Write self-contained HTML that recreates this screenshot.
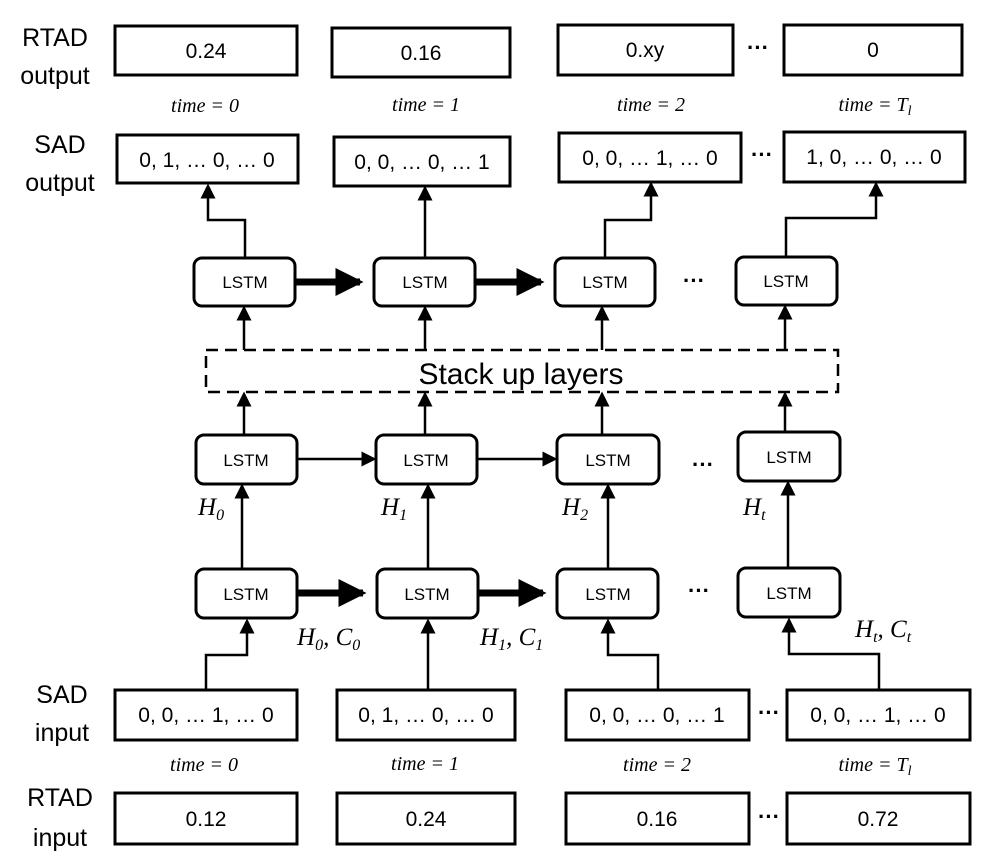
<!DOCTYPE html>
<html><head><meta charset="utf-8"><style>
html,body{margin:0;padding:0;background:#fff;}
svg{display:block;}
.b{fill:none;stroke:#000;stroke-width:3;}
.l{fill:none;stroke:#000;stroke-width:2.5;}
.tk{fill:none;stroke:#000;stroke-width:7;}
.t{font-family:"Liberation Sans",sans-serif;font-size:21px;text-anchor:middle;}
.d{font-family:"Liberation Sans",sans-serif;font-size:22px;font-weight:bold;text-anchor:middle;}
.lab{font-family:"Liberation Sans",sans-serif;font-size:25px;text-anchor:middle;}
.ls{font-family:"Liberation Sans",sans-serif;font-size:17px;text-anchor:middle;}
.tm{font-family:"Liberation Serif",serif;font-style:italic;font-size:20px;text-anchor:middle;}
.m{font-family:"Liberation Serif",serif;font-style:italic;font-size:25px;}
</style></head><body>
<svg width="989" height="866" viewBox="0 0 989 866" xmlns="http://www.w3.org/2000/svg">
<defs>
<marker id="a" markerWidth="6" markerHeight="6" refX="5" refY="3" orient="auto" markerUnits="strokeWidth"><path d="M0,0 L6,3 L0,6 z"/></marker>
<marker id="ak" markerWidth="4" markerHeight="4" refX="3.5" refY="2" orient="auto" markerUnits="strokeWidth"><path d="M0,0 L4,2 L0,4 z"/></marker>
</defs>
<text class="lab" x="55" y="46">RTAD</text><text class="lab" x="55" y="84">output</text>
<text class="lab" x="60" y="153">SAD</text><text class="lab" x="60" y="191">output</text>
<text class="lab" x="62" y="703">SAD</text><text class="lab" x="62" y="741">input</text>
<text class="lab" x="60" y="806">RTAD</text><text class="lab" x="60" y="846">input</text>

<rect class="b" x="115" y="26" width="182" height="49"/><text class="t" x="206" y="58">0.24</text>
<rect class="b" x="332" y="28" width="178" height="49"/><text class="t" x="421" y="60">0.16</text>
<rect class="b" x="558" y="25" width="175" height="50"/><text class="t" x="645" y="57">0.xy</text>
<rect class="b" x="784" y="25" width="178" height="50"/><text class="t" x="873" y="57">0</text>
<text class="d" x="758" y="55">···</text>
<text class="tm" x="205" y="112">time = 0</text>
<text class="tm" x="426" y="111">time = 1</text>
<text class="tm" x="651" y="111">time = 2</text>
<text class="tm" x="875" y="111">time = T<tspan font-size="14" dy="4">l</tspan></text>

<rect class="b" x="117" y="135" width="181" height="48"/><text class="t" x="207" y="167">0, 1, … 0, … 0</text>
<rect class="b" x="334" y="137" width="176" height="49"/><text class="t" x="422" y="169">0, 0, … 0, … 1</text>
<rect class="b" x="559" y="133" width="182" height="49"/><text class="t" x="650" y="165">0, 0, … 1, … 0</text>
<rect class="b" x="784" y="132" width="181" height="50"/><text class="t" x="874" y="164">1, 0, … 0, … 0</text>
<text class="d" x="762" y="162">···</text>

<rect class="b" x="194" y="258" width="101" height="48" rx="8"/><text class="ls" x="245" y="288">LSTM</text>
<rect class="b" x="374" y="258" width="101" height="48" rx="8"/><text class="ls" x="425" y="288">LSTM</text>
<rect class="b" x="555" y="258" width="100" height="48" rx="8"/><text class="ls" x="605" y="288">LSTM</text>
<rect class="b" x="736" y="257" width="101" height="48" rx="8"/><text class="ls" x="786" y="287">LSTM</text>
<text class="d" x="694" y="288">···</text>
<path class="l" d="M245,258 V220 H208 V186" marker-end="url(#a)"/>
<path class="l" d="M425,258 V188" marker-end="url(#a)"/>
<path class="l" d="M605,258 V220 H651 V184" marker-end="url(#a)"/>
<path class="l" d="M786,257 V218 H876 V184" marker-end="url(#a)"/>
<path class="tk" d="M295,282 H360" marker-end="url(#ak)"/>
<path class="tk" d="M475,282 H541" marker-end="url(#ak)"/>

<rect x="206" y="350" width="632" height="42" fill="none" stroke="#000" stroke-width="2.5" stroke-dasharray="12,7"/>
<text x="521" y="384" font-family="'Liberation Sans',sans-serif" font-size="30" text-anchor="middle">Stack up layers</text>
<path class="l" d="M244,350 V308" marker-end="url(#a)"/>
<path class="l" d="M425,350 V308" marker-end="url(#a)"/>
<path class="l" d="M602,350 V308" marker-end="url(#a)"/>
<path class="l" d="M785,350 V307" marker-end="url(#a)"/>

<rect class="b" x="196" y="435" width="101" height="49" rx="8"/><text class="ls" x="246" y="466">LSTM</text>
<rect class="b" x="376" y="435" width="101" height="49" rx="8"/><text class="ls" x="426" y="466">LSTM</text>
<rect class="b" x="557" y="435" width="102" height="49" rx="8"/><text class="ls" x="608" y="466">LSTM</text>
<rect class="b" x="738" y="432" width="102" height="49" rx="8"/><text class="ls" x="789" y="463">LSTM</text>
<text class="d" x="703" y="472">···</text>
<path class="l" d="M244,435 V394" marker-end="url(#a)"/>
<path class="l" d="M425,435 V394" marker-end="url(#a)"/>
<path class="l" d="M602,435 V394" marker-end="url(#a)"/>
<path class="l" d="M785,432 V394" marker-end="url(#a)"/>
<path class="l" d="M297,459 H374" marker-end="url(#a)"/>
<path class="l" d="M477,459 H555" marker-end="url(#a)"/>

<text class="m" x="198" y="515">H<tspan font-size="16" dy="5">0</tspan></text>
<text class="m" x="381" y="515">H<tspan font-size="16" dy="5">1</tspan></text>
<text class="m" x="562" y="515">H<tspan font-size="16" dy="5">2</tspan></text>
<text class="m" x="743" y="515">H<tspan font-size="16" dy="5">t</tspan></text>

<rect class="b" x="196" y="569" width="101" height="49" rx="8"/><text class="ls" x="246" y="600">LSTM</text>
<rect class="b" x="377" y="569" width="101" height="49" rx="8"/><text class="ls" x="427" y="600">LSTM</text>
<rect class="b" x="557" y="569" width="101" height="49" rx="8"/><text class="ls" x="608" y="600">LSTM</text>
<rect class="b" x="738" y="568" width="102" height="49" rx="8"/><text class="ls" x="789" y="599">LSTM</text>
<text class="d" x="699" y="598">···</text>
<path class="l" d="M242,569 V486" marker-end="url(#a)"/>
<path class="l" d="M428,569 V486" marker-end="url(#a)"/>
<path class="l" d="M608,569 V486" marker-end="url(#a)"/>
<path class="l" d="M788,568 V483" marker-end="url(#a)"/>
<path class="tk" d="M297,593 H363" marker-end="url(#ak)"/>
<path class="tk" d="M478,593 H543" marker-end="url(#ak)"/>
<text class="m" x="297" y="645">H<tspan font-size="16" dy="5">0</tspan><tspan dy="-5">, C</tspan><tspan font-size="16" dy="5">0</tspan></text>
<text class="m" x="480" y="645">H<tspan font-size="16" dy="5">1</tspan><tspan dy="-5">, C</tspan><tspan font-size="16" dy="5">1</tspan></text>
<text class="m" x="855" y="637">H<tspan font-size="16" dy="5">t</tspan><tspan dy="-5">, C</tspan><tspan font-size="16" dy="5">t</tspan></text>

<rect class="b" x="115" y="690" width="182" height="50"/><text class="t" x="206" y="722">0, 0, … 1, … 0</text>
<rect class="b" x="337" y="690" width="178" height="50"/><text class="t" x="426" y="722">0, 1, … 0, … 0</text>
<rect class="b" x="566" y="690" width="183" height="50"/><text class="t" x="657" y="722">0, 0, … 0, … 1</text>
<rect class="b" x="787" y="690" width="183" height="50"/><text class="t" x="878" y="722">0, 0, … 1, … 0</text>
<text class="d" x="769" y="720">···</text>
<path class="l" d="M206,690 V655 H247 V621" marker-end="url(#a)"/>
<path class="l" d="M428,690 V621" marker-end="url(#a)"/>
<path class="l" d="M658,690 V655 H608 V621" marker-end="url(#a)"/>
<path class="l" d="M879,690 V654 H789 V620" marker-end="url(#a)"/>
<text class="tm" x="204" y="771">time = 0</text>
<text class="tm" x="425" y="770">time = 1</text>
<text class="tm" x="657" y="771">time = 2</text>
<text class="tm" x="875" y="771">time = T<tspan font-size="14" dy="4">l</tspan></text>

<rect class="b" x="115" y="793" width="182" height="51"/><text class="t" x="206" y="826">0.12</text>
<rect class="b" x="337" y="793" width="178" height="51"/><text class="t" x="426" y="826">0.24</text>
<rect class="b" x="566" y="793" width="183" height="51"/><text class="t" x="657" y="826">0.16</text>
<rect class="b" x="787" y="793" width="183" height="51"/><text class="t" x="878" y="826">0.72</text>
<text class="d" x="769" y="824">···</text>
</svg>
</body></html>
